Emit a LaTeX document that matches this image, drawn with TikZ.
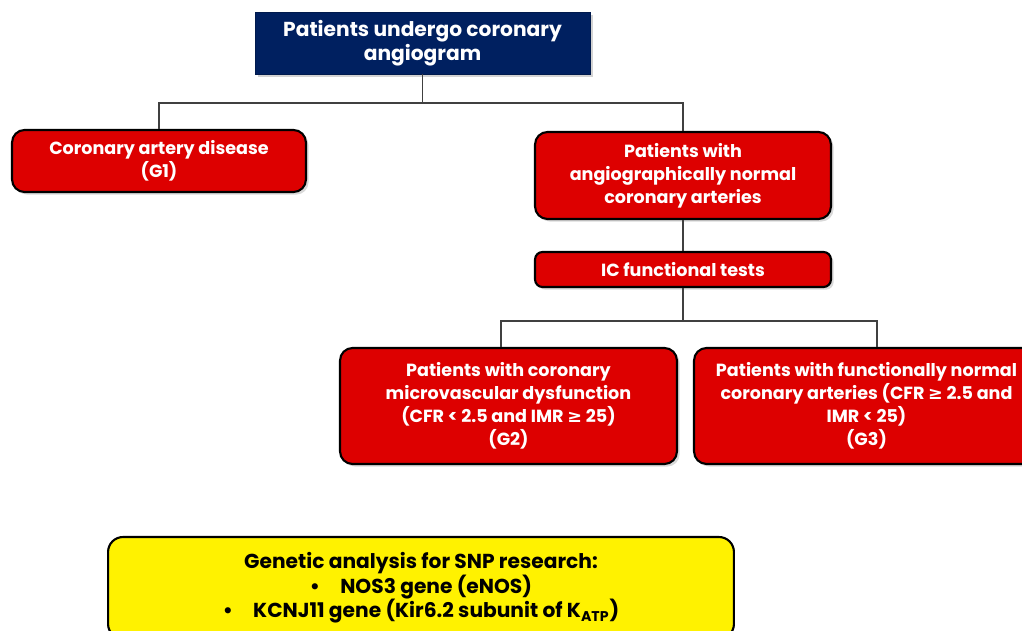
\documentclass[tikz,border=0pt]{standalone}
\usepackage{fontspec}
\setmainfont{Poppins}
\newfontfamily\symfont{DejaVu Sans}
\newcommand{\geqsym}{{\symfont\bfseries ≥}}
\usetikzlibrary{shadows}
\definecolor{boxred}{RGB}{221,0,0}
\definecolor{boxnavy}{RGB}{0,32,96}
\definecolor{linegray}{RGB}{64,64,64}
\tikzset{
  flowbox/.style={rounded corners=0.25cm, line width=1.2pt, draw=black, fill=boxred,
    text=white, font=\fontsize{10}{13}\selectfont\bfseries, align=center,
    drop shadow={shadow xshift=1.5pt, shadow yshift=-1.5pt, opacity=0.3}},
  topbox/.style={fill=boxnavy, draw=boxnavy!80!black, text=white,
    font=\fontsize{11.5}{14}\selectfont\bfseries, align=center,
    drop shadow={shadow xshift=1.5pt, shadow yshift=-1.5pt, opacity=0.35}},
  genebox/.style={rounded corners=0.3cm, line width=1.2pt, draw=black, fill=yellow,
    text=black, font=\fontsize{11.5}{14}\selectfont\bfseries, align=center},
  link/.style={draw=linegray, line width=0.6pt}
}
\begin{document}
\begin{tikzpicture}[x=0.02cm, y=-0.02cm]
	\useasboundingbox (0,0) rectangle (1022,631);
	% boxes
	\node [topbox, minimum width=6.7cm, minimum height=1.24cm] (top) at (422.5,43)
	      {Patients undergo coronary\\angiogram};
	\node [flowbox, minimum width=5.88cm, minimum height=1.24cm] (cad) at (159,161)
	      {Coronary artery disease\\(G1)};
	\node [flowbox, minimum width=5.92cm, minimum height=1.74cm] (normal) at (683,175.5)
	      {Patients with\\angiographically normal\\coronary arteries};
	\node [flowbox, rounded corners=0.15cm, minimum width=5.92cm, minimum height=0.7cm] (ictest) at (683,269.5)
	      {IC functional tests};
	\node [flowbox, minimum width=6.74cm, minimum height=2.32cm] (cmd) at (508.5,406)
	      {Patients with coronary\\microvascular dysfunction\\(CFR < 2.5 and IMR \geqsym{} 25)\\(G2)};
	\node [flowbox, minimum width=6.9cm, minimum height=2.32cm] (fnorm) at (866.5,406)
	      {Patients with functionally normal\\coronary arteries (CFR \geqsym{} 2.5 and\\IMR < 25)\\(G3)};
	\node [genebox, minimum width=12.52cm, minimum height=2.04cm] (gene) at (421,588)
	      {Genetic analysis for SNP research:\\\textbullet\quad NOS3 gene (eNOS)\\\textbullet\quad KCNJ11 gene (Kir6.2 subunit of K\textsubscript{ATP})};
	% connectors
	\coordinate (split1) at (422.5,103);
	\coordinate (split2l) at (501,321);
	\coordinate (split2r) at (877,321);
	\draw [link] (top.south) -- (split1);
	\draw [link] (cad.north) |- (split1) -| (normal.north);
	\draw [link] (normal.south) -- (ictest.north);
	\draw [link] (ictest.south) |- (split2l) -- (split2l |- cmd.north);
	\draw [link] (ictest.south) |- (split2r) -- (split2r |- fnorm.north);
\end{tikzpicture}
\end{document}
